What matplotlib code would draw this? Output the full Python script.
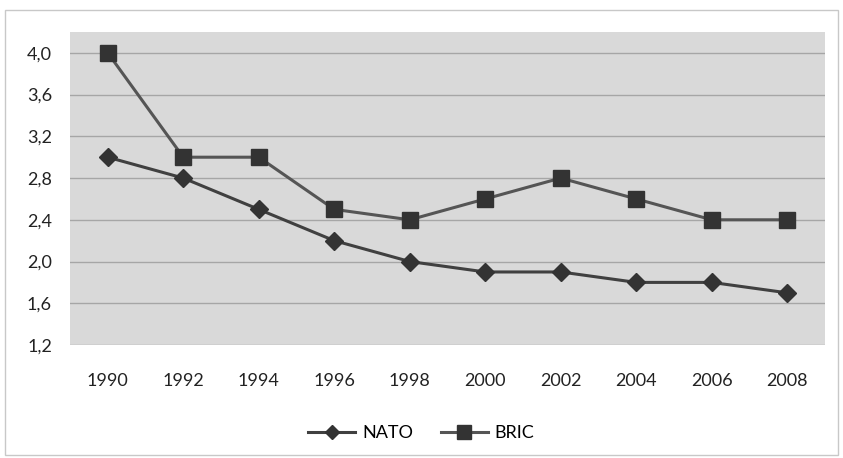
import matplotlib
matplotlib.use("Agg")
import matplotlib.pyplot as plt
from matplotlib.patches import Rectangle

anios = ['1990', '1992', '1994', '1996', '1998', '2000', '2002', '2004', '2006', '2008']
nato = [3.0, 2.8, 2.5, 2.2, 2.0, 1.9, 1.9, 1.8, 1.8, 1.7]
bric = [4.0, 3.0, 3.0, 2.5, 2.4, 2.6, 2.8, 2.6, 2.4, 2.4]
ticks_y = [1.2, 1.6, 2.0, 2.4, 2.8, 3.2, 3.6, 4.0]

plt.rcParams['font.family'] = ['Lato', 'DejaVu Sans']

fig = plt.figure(figsize=(8.43, 4.58), dpi=100)
fig.patch.set_facecolor('white')
# marco exterior
fig.patches.append(Rectangle((5 / 843, 3 / 458), 833 / 843, 445 / 458, transform=fig.transFigure,
                             fill=False, edgecolor='#c8c8c8', linewidth=1))

ax = fig.add_axes([70 / 843, 1 - 345 / 458, 755 / 843, 313 / 458])
ax.set_facecolor('#d9d9d9')

x = list(range(len(anios)))
ax.plot(x, nato, color='#404040', linewidth=2.2, marker='D', markersize=9,
        markerfacecolor='#333333', markeredgecolor='#333333', label='NATO', zorder=3)
ax.plot(x, bric, color='#555555', linewidth=2.2, marker='s', markersize=12,
        markerfacecolor='#333333', markeredgecolor='#333333', label='BRIC', zorder=3)

ax.set_xlim(-0.5, len(anios) - 0.5)
ax.set_ylim(1.2, 4.2)
ax.set_yticks(ticks_y)
ax.set_yticklabels([f'{v:.1f}'.replace('.', ',') for v in ticks_y])
ax.set_xticks(x)
ax.set_xticklabels(anios)
ax.yaxis.grid(True, color='#a6a6a6', linewidth=1)
ax.set_axisbelow(True)
for s in ax.spines.values():
    s.set_visible(False)
ax.tick_params(length=0, labelsize=13, colors='#222222')
ax.tick_params(axis='x', pad=20)
ax.tick_params(axis='y', pad=13)

fig.legend(loc='center', bbox_to_anchor=(0.5, 1 - 433 / 458), ncol=2, frameon=False,
           fontsize=13, handlelength=2.6, columnspacing=1.5, handletextpad=0.4,
           markerscale=0.8)

fig.savefig('out.png', dpi=100)
